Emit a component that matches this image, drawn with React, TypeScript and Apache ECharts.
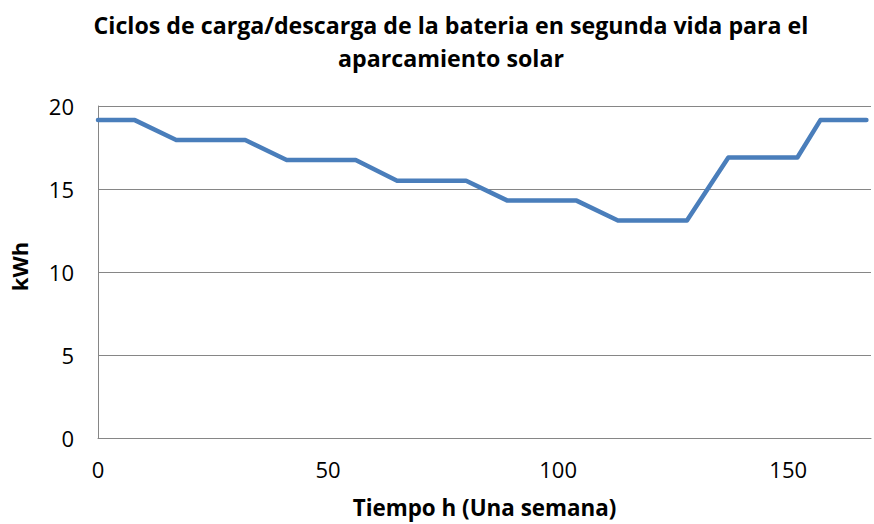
import React, { useEffect, useRef } from "react";
import * as echarts from "echarts";

const titleText = "Ciclos de carga/descarga de la bateria en segunda vida para el\naparcamiento solar";
const xAxisName = "Tiempo h (Una semana)";
const yAxisName = "kWh";
const hours = [0, 8, 17, 32, 41, 56, 65, 80, 89, 104, 113, 128, 137, 152, 157, 167];
const energy = [19.15, 19.15, 17.95, 17.95, 16.75, 16.75, 15.5, 15.5, 14.3, 14.3, 13.1, 13.1, 16.9, 16.9, 19.15, 19.15];

export default function App() {
  const ref = useRef<HTMLDivElement>(null);
  useEffect(() => {
    if (!ref.current) return;
    const chart = echarts.init(ref.current, undefined, { renderer: "svg" });
    const font = "'Open Sans', sans-serif";
    chart.setOption({
      animation: false,
      backgroundColor: "#ffffff",
      title: {
        text: titleText,
        left: 446,
        top: 3,
        textAlign: "center",
        textStyle: { fontFamily: font, fontWeight: "bold", fontSize: 23.2, color: "#000", lineHeight: 33 },
      },
      grid: { left: 97, right: 1, top: 106, bottom: 86 },
      xAxis: {
        type: "value",
        min: 0,
        max: 168,
        interval: 50,
        name: xAxisName,
        nameLocation: "middle",
        nameGap: 58,
        nameTextStyle: { fontFamily: font, fontWeight: "bold", fontSize: 22.4, color: "#000" },
        axisLine: { show: true, lineStyle: { color: "#868686", width: 1 } },
        axisTick: { show: false },
        splitLine: { show: false },
        axisLabel: {
          fontFamily: font, fontSize: 22, color: "#000", margin: 20,
          formatter: (v: number) => (v > 160 ? "" : String(v)),
        },
      },
      yAxis: {
        type: "value",
        min: 0,
        max: 20,
        interval: 5,
        name: yAxisName,
        nameLocation: "middle",
        nameGap: 68,
        nameTextStyle: { fontFamily: font, fontWeight: "bold", fontSize: 22, color: "#000", padding: [0, 0, 0, 11] },
        axisLine: { show: true, lineStyle: { color: "#868686", width: 1 } },
        axisTick: { show: false },
        splitLine: { show: true, lineStyle: { color: "#868686", width: 1 } },
        axisLabel: { fontFamily: font, fontSize: 22, color: "#000", margin: 24 },
      },
      series: [
        {
          type: "line",
          data: hours.map((h, i) => [h, energy[i]]),
          showSymbol: false,
          symbol: "none",
          lineStyle: { color: "#4a7ebb", width: 4.5, cap: "round", join: "round" },
        },
      ],
    });
    return () => chart.dispose();
  }, []);
  return <div ref={ref} style={{ width: 874, height: 524, position: "absolute", left: 0, top: 0 }} />;
}
